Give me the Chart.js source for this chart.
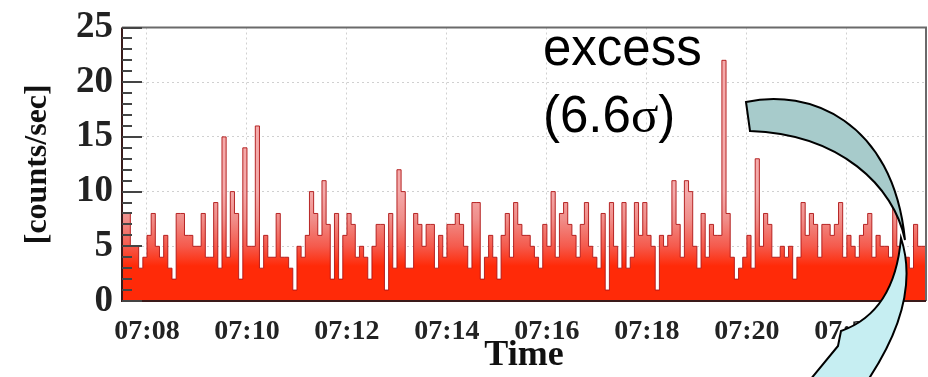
<!DOCTYPE html>
<html>
<head>
<meta charset="utf-8">
<style>
  html, body { margin: 0; padding: 0; background: #fff; }
</style>
</head>
<body>
<canvas id="rate" width="928" height="377"></canvas>
<script src="https://cdn.jsdelivr.net/npm/chart.js@4/dist/chart.umd.min.js"></script>
<script>
// histogram: 5 s bins starting at 07:07:30
var binStart = '07:07:30';
var binSec = 5;
var counts = [
  10, 8, 8, 5, 5, 3, 4, 6, 8, 5, 4, 6, 3, 2, 8, 8, 6, 6, 5, 5,
  8, 4, 4, 9, 3, 15, 4, 10, 8, 2, 14, 5, 5, 16, 3, 6, 4, 4, 8, 4,
  4, 3, 1, 5, 4, 6, 10, 8, 6, 11, 7, 2, 8, 2, 6, 8, 7, 4, 5, 4,
  2, 5, 7, 7, 1, 8, 3, 12, 10, 3, 3, 8, 7, 5, 7, 7, 3, 6, 4, 7,
  7, 8, 7, 5, 3, 9, 9, 2, 4, 6, 4, 2, 6, 8, 4, 9, 7, 6, 6, 5,
  4, 3, 7, 5, 10, 4, 8, 9, 7, 6, 4, 7, 9, 5, 4, 3, 8, 1, 9, 5,
  3, 9, 3, 4, 9, 6, 9, 6, 5, 1, 6, 5, 6, 11, 7, 4, 11, 10, 5, 3,
  8, 4, 7, 6, 6, 22, 8, 4, 2, 3, 4, 6, 3, 13, 5, 8, 7, 4, 4, 5,
  4, 5, 2, 4, 9, 6, 8, 7, 4, 7, 7, 6, 7, 9, 4, 6, 5, 4, 6, 7,
  8, 4, 6, 5, 5, 4, 9, 5, 4, 4, 3, 7, 5
];
var timeTicks = ['07:08', '07:10', '07:12', '07:14', '07:16', '07:18', '07:20', '07:22'];
var rateTicks = [0, 5, 10, 15, 20, 25];

function toSec(s) {
  var p = s.split(':');
  return (+p[0]) * 3600 + (+p[1]) * 60 + (+(p[2] || 0));
}
function pad2(n) { return (n < 10 ? '0' : '') + n; }
function fmtTime(sec) {
  return pad2(Math.floor(sec / 3600)) + ':' + pad2(Math.floor(sec % 3600 / 60));
}

var t0 = toSec(binStart);
var tEnd = t0 + counts.length * binSec;
var points = counts.map(function (v, i) { return { x: t0 + i * binSec, y: v }; });
// close the last bin
points.push({ x: tEnd, y: counts[counts.length - 1] });

var serif = '"Liberation Serif", "Times New Roman", serif';
var sans = '"Liberation Sans", Arial, sans-serif';

function fillGrad(ctx) {
  var chart = ctx.chart;
  if (!chart.chartArea) return '#ff2a08';
  var y = chart.scales.y;
  var g = chart.ctx.createLinearGradient(0, y.getPixelForValue(0), 0, y.getPixelForValue(10));
  g.addColorStop(0, '#ff2a08');
  g.addColorStop(0.32, '#ff2a08');
  g.addColorStop(0.5, '#f55a4c');
  g.addColorStop(0.75, '#f08e8a');
  g.addColorStop(1, '#f4aaaa');
  return g;
}

// ROOT-like frame, inward ticks, and the slide annotation on top
var decor = {
  id: 'decor',
  afterDatasetsDraw: function (chart) {
    var c = chart.ctx, a = chart.chartArea, y = chart.scales.y;
    c.save();
    c.lineWidth = 2;
    c.strokeStyle = '#6a6a6a';
    c.beginPath();
    c.moveTo(a.left, a.top); c.lineTo(a.right, a.top); c.lineTo(a.right, a.bottom);
    c.stroke();
    c.strokeStyle = '#3a1a1a';
    c.beginPath();
    c.moveTo(a.left, a.top); c.lineTo(a.left, a.bottom); c.lineTo(a.right, a.bottom);
    c.stroke();
    c.strokeStyle = '#444';
    for (var v = 0; v <= 25; v++) {
      var py = Math.round(y.getPixelForValue(v));
      var len = v % 5 === 0 ? 20 : 10;
      c.beginPath(); c.moveTo(a.left, py); c.lineTo(a.left + len, py); c.stroke();
    }
    c.restore();
  },
  afterDraw: function (chart) {
    var c = chart.ctx;
    c.save();
    // curved arrow
    c.lineWidth = 2;
    c.strokeStyle = '#000';
    c.lineJoin = 'miter';
    c.beginPath();
    c.moveTo(746, 102);
    c.bezierCurveTo(808, 88, 893, 120, 905, 240);
    c.bezierCurveTo(894, 186, 840, 134, 750, 131);
    c.closePath();
    c.fillStyle = '#a7cbcb';
    c.fill(); c.stroke();
    c.beginPath();
    c.moveTo(901, 238);
    c.bezierCurveTo(914, 278, 904, 326, 868, 380);
    c.lineTo(810, 380);
    c.lineTo(838, 346);
    c.lineTo(841, 331);
    c.bezierCurveTo(878, 318, 897, 285, 901, 238);
    c.closePath();
    c.fillStyle = '#c6eef2';
    c.fill(); c.stroke();

    // label
    c.fillStyle = '#000';
    c.textBaseline = 'alphabetic';
    c.font = '51px ' + sans;
    c.fillText('excess', 543, 65);
    var s1 = '(6.6';
    c.fillText(s1, 543, 132);
    var x = 543 + c.measureText(s1).width;
    c.font = '51px ' + serif;
    c.fillText('\u03c3', x, 132);
    x += c.measureText('\u03c3').width;
    c.font = '51px ' + sans;
    c.fillText(')', x, 132);
    c.restore();
  }
};

new Chart(document.getElementById('rate'), {
  type: 'line',
  data: {
    datasets: [{
      label: 'counts',
      data: points,
      stepped: 'after',
      fill: 'origin',
      backgroundColor: fillGrad,
      borderColor: 'rgba(175,20,20,0.9)',
      borderWidth: 1,
      pointRadius: 0
    }]
  },
  options: {
    responsive: false,
    animation: false,
    events: [],
    layout: { padding: { left: 16, right: 2, top: 20, bottom: 0 } },
    plugins: { legend: { display: false }, tooltip: { enabled: false } },
    scales: {
      x: {
        type: 'linear',
        min: t0,
        max: tEnd,
        afterBuildTicks: function (s) {
          s.ticks = timeTicks.map(function (t) { return { value: toSec(t) }; });
        },
        afterFit: function (s) { s.height = 76; },
        ticks: {
          callback: function (v) { return fmtTime(v); },
          font: { family: serif, weight: 'bold', size: 28, lineHeight: 1 },
          color: '#222',
          padding: 17,
          maxRotation: 0,
          autoSkip: false
        },
        grid: { color: '#d0d0d0', drawTicks: false, lineWidth: 1 },
        border: { display: false, dash: [2, 3] },
        title: {
          display: true,
          text: 'Time',
          font: { family: serif, weight: 'bold', size: 36 },
          color: '#111',
          padding: { top: 0, bottom: 0 }
        }
      },
      y: {
        min: 0,
        max: 25,
        afterBuildTicks: function (s) {
          s.ticks = rateTicks.map(function (v) { return { value: v }; });
        },
        afterFit: function (s) { s.width = 106; },
        ticks: {
          font: { family: serif, weight: 'bold', size: 37, lineHeight: 1 },
          color: '#222',
          padding: 9
        },
        grid: {
          color: function (ctx) {
            var v = ctx.tick && ctx.tick.value;
            return (v === 0 || v === 25) ? 'rgba(0,0,0,0)' : '#d0d0d0';
          },
          drawTicks: false
        },
        border: { display: false, dash: [2, 3] },
        title: {
          display: true,
          text: '[counts/sec]',
          font: { family: serif, weight: 'bold', size: 32 },
          color: '#111',
          padding: { top: 3, bottom: 0 }
        }
      }
    }
  },
  plugins: [decor]
});
</script>
</body>
</html>
